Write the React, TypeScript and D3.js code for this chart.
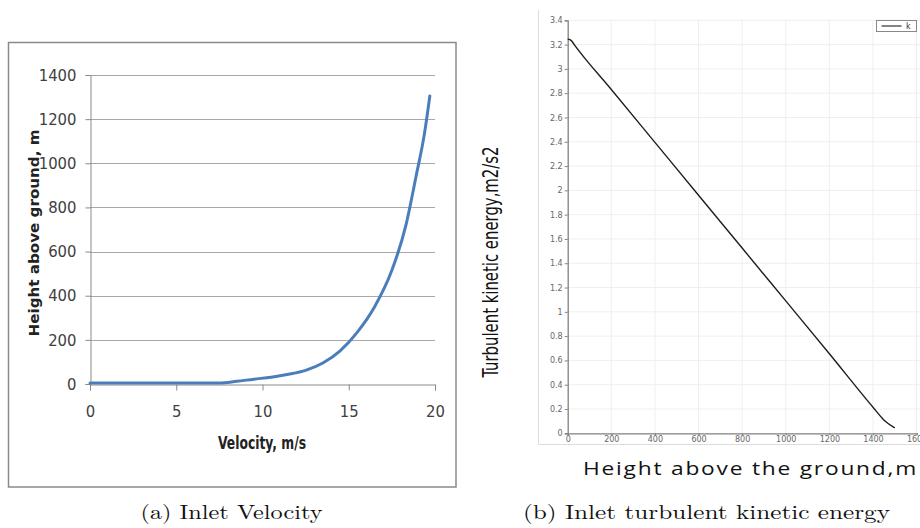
import React, { useRef, useEffect } from 'react';
import * as d3 from 'd3';

// (a) inlet velocity profile
const velocity = [0, 3, 6, 7.5, 8.5, 9.5, 10.5, 11.5, 12.5, 13.5, 14.5, 15.5, 16.5, 17.5, 18.3, 18.9, 19.4, 19.7];
const heightAboveGround = [4, 4, 4, 4, 12, 22, 31, 44, 62, 95, 150, 235, 350, 515, 715, 940, 1140, 1305];
const velocityTicks = [0, 5, 10, 15, 20];
const heightTicks = [0, 200, 400, 600, 800, 1000, 1200, 1400];

// (b) inlet turbulent kinetic energy
const kHeight = [0, 10, 20, 30, 200, 400, 600, 800, 1000, 1200, 1400, 1450, 1500];
const kValue = [3.245, 3.24, 3.225, 3.2, 2.83, 2.395, 1.96, 1.525, 1.09, 0.655, 0.215, 0.11, 0.045];
const kHeightTicks = [0, 200, 400, 600, 800, 1000, 1200, 1400, 1600];
const kTicks = [0, 0.2, 0.4, 0.6, 0.8, 1, 1.2, 1.4, 1.6, 1.8, 2, 2.2, 2.4, 2.6, 2.8, 3, 3.2, 3.4];
const kTickLabels = ['0', '0.2', '0.4', '0.6', '0.8', '1', '1.2', '1.4', '1.6', '1.8', '2', '2.2', '2.4', '2.6', '2.8', '3', '3.2', '3.4'];

const narrow = '"Liberation Sans Narrow", "DejaVu Sans Condensed", "Roboto Condensed", sans-serif';
const serif = '"Latin Modern Roman", "DejaVu Serif", "Liberation Serif", serif';

const App = () => {
  const svgRef = useRef<SVGSVGElement>(null);

  useEffect(() => {
    const svg = d3.select(svgRef.current);
    svg.selectAll('*').remove();
    svg.append('rect').attr('width', 920).attr('height', 528).attr('fill', 'white');

    // ---------- left chart ----------
    const left = svg.append('g');
    left.append('rect')
      .attr('x', 8.5).attr('y', 42.5).attr('width', 447.5).attr('height', 444.5)
      .attr('fill', 'none').attr('stroke', '#8a8a8a').attr('stroke-width', 1.5);

    const xL = d3.scaleLinear().domain([0, 20]).range([90, 435]);
    const yL = d3.scaleLinear().domain([0, 1400]).range([384, 75]);

    left.selectAll('.gridL')
      .data(heightTicks.filter(d => d > 0))
      .enter().append('line')
      .attr('x1', 90).attr('x2', 435)
      .attr('y1', d => Math.round(yL(d)) + 0.5).attr('y2', d => Math.round(yL(d)) + 0.5)
      .attr('stroke', '#a8a8a8').attr('stroke-width', 1);

    const yAxisL = left.append('g')
      .attr('transform', 'translate(90.5,0)')
      .call(d3.axisLeft(yL).tickValues(heightTicks).tickSize(5).tickPadding(9).tickFormat(d3.format('d')));
    const xAxisL = left.append('g')
      .attr('transform', 'translate(0,384.5)')
      .call(d3.axisBottom(xL).tickValues(velocityTicks).tickSize(6).tickPadding(15).tickFormat(d3.format('d')));
    [yAxisL, xAxisL].forEach(a => {
      a.select('.domain').attr('stroke', '#8a8a8a');
      a.selectAll('.tick line').attr('stroke', '#8a8a8a');
      a.selectAll('text')
        .attr('fill', '#404040')
        .style('font-family', narrow)
        .style('font-size', '16.5px');
    });

    const lineL = d3.line<number>()
      .x((d, i) => xL(velocity[i]))
      .y(d => yL(d))
      .curve(d3.curveMonotoneX);
    left.append('path')
      .attr('d', lineL(heightAboveGround))
      .attr('fill', 'none')
      .attr('stroke', '#4a7ebb')
      .attr('stroke-width', 3)
      .attr('stroke-linecap', 'round');

    left.append('text')
      .attr('x', 262).attr('y', 449)
      .attr('text-anchor', 'middle')
      .attr('textLength', 88).attr('lengthAdjust', 'spacingAndGlyphs')
      .style('font-family', narrow).style('font-weight', 'bold').style('font-size', '17px')
      .attr('fill', '#222')
      .text('Velocity, m/s');

    left.append('text')
      .attr('transform', 'translate(39,233) rotate(-90)')
      .attr('text-anchor', 'middle')
      .attr('textLength', 207).attr('lengthAdjust', 'spacingAndGlyphs')
      .style('font-family', '"DejaVu Sans", sans-serif').style('font-weight', 'bold').style('font-size', '14px')
      .attr('fill', '#222')
      .text('Height above ground, m');

    // ---------- right chart ----------
    const right = svg.append('g');
    right.append('line').attr('x1', 538.5).attr('x2', 538.5).attr('y1', 10).attr('y2', 444.5)
      .attr('stroke', '#dcdcdc');
    right.append('line').attr('x1', 538.5).attr('x2', 920).attr('y1', 444.5).attr('y2', 444.5)
      .attr('stroke', '#dcdcdc');

    const xR = d3.scaleLinear().domain([0, 1600]).range([567.7, 916.6]);
    const yR = d3.scaleLinear().domain([0, 3.4]).range([433.3, 20.3]);

    right.selectAll('.gridRx')
      .data(kHeightTicks.filter(d => d > 0))
      .enter().append('line')
      .attr('x1', d => xR(d)).attr('x2', d => xR(d))
      .attr('y1', yR(3.4)).attr('y2', yR(0))
      .attr('stroke', '#efefef');
    right.selectAll('.gridRy')
      .data(kTicks.filter(d => d > 0))
      .enter().append('line')
      .attr('x1', xR(0)).attr('x2', 920)
      .attr('y1', d => yR(d)).attr('y2', d => yR(d))
      .attr('stroke', '#efefef');

    const yAxisR = right.append('g')
      .attr('transform', `translate(${xR(0)},0)`)
      .call(d3.axisLeft(yR).tickValues(kTicks).tickSize(3).tickPadding(2)
        .tickFormat((d, i) => kTickLabels[i]));
    const xAxisR = right.append('g')
      .attr('transform', `translate(0,${yR(0)})`)
      .call(d3.axisBottom(xR).tickValues(kHeightTicks).tickSize(2).tickPadding(1).tickFormat(d3.format('d')));
    [yAxisR, xAxisR].forEach(a => {
      a.select('.domain').attr('stroke', '#808080').attr('stroke-width', 1.3);
      a.selectAll('.tick line').attr('stroke', '#808080');
      a.selectAll('text')
        .attr('fill', '#666')
        .style('font-family', '"DejaVu Sans", sans-serif')
        .style('font-size', '8px');
    });

    const lineR = d3.line<number>()
      .x((d, i) => xR(kHeight[i]))
      .y(d => yR(d))
      .curve(d3.curveMonotoneX);
    right.append('path')
      .attr('d', lineR(kValue))
      .attr('fill', 'none')
      .attr('stroke', '#1e1e1e')
      .attr('stroke-width', 1.4);

    // legend
    right.append('rect')
      .attr('x', 876.5).attr('y', 20.5).attr('width', 40).attr('height', 11)
      .attr('fill', 'white').attr('stroke', '#888');
    right.append('line')
      .attr('x1', 881.5).attr('x2', 901.5).attr('y1', 26).attr('y2', 26)
      .attr('stroke', '#333').attr('stroke-width', 1.2);
    right.append('text')
      .attr('x', 906).attr('y', 29)
      .style('font-family', '"DejaVu Sans", sans-serif').style('font-size', '8px')
      .attr('fill', '#333')
      .text('k');

    right.append('text')
      .attr('transform', 'translate(498,262) rotate(-90)')
      .attr('text-anchor', 'middle')
      .attr('textLength', 231).attr('lengthAdjust', 'spacingAndGlyphs')
      .style('font-family', narrow).style('font-size', '21px')
      .attr('fill', '#111')
      .text('Turbulent kinetic energy,m2/s2');

    right.append('text')
      .attr('x', 583).attr('y', 475)
      .attr('textLength', 335).attr('lengthAdjust', 'spacingAndGlyphs')
      .style('font-family', '"Open Sans", sans-serif').style('font-size', '19px')
      .style('letter-spacing', '1.5px')
      .attr('fill', '#111')
      .text('Height above the ground,m');

    // captions
    svg.append('text')
      .attr('x', 140.5).attr('y', 519)
      .attr('textLength', 182).attr('lengthAdjust', 'spacingAndGlyphs')
      .style('font-family', serif).style('font-size', '20px')
      .attr('fill', '#111')
      .text('(a) Inlet Velocity');
    svg.append('text')
      .attr('x', 523).attr('y', 519)
      .attr('textLength', 367).attr('lengthAdjust', 'spacingAndGlyphs')
      .style('font-family', serif).style('font-size', '20px')
      .attr('fill', '#111')
      .text('(b) Inlet turbulent kinetic energy');
  }, []);

  return (
    <svg
      ref={svgRef}
      width={920}
      height={528}
      style={{ position: 'absolute', left: 0, top: 0, display: 'block' }}
    />
  );
};

export default App;
